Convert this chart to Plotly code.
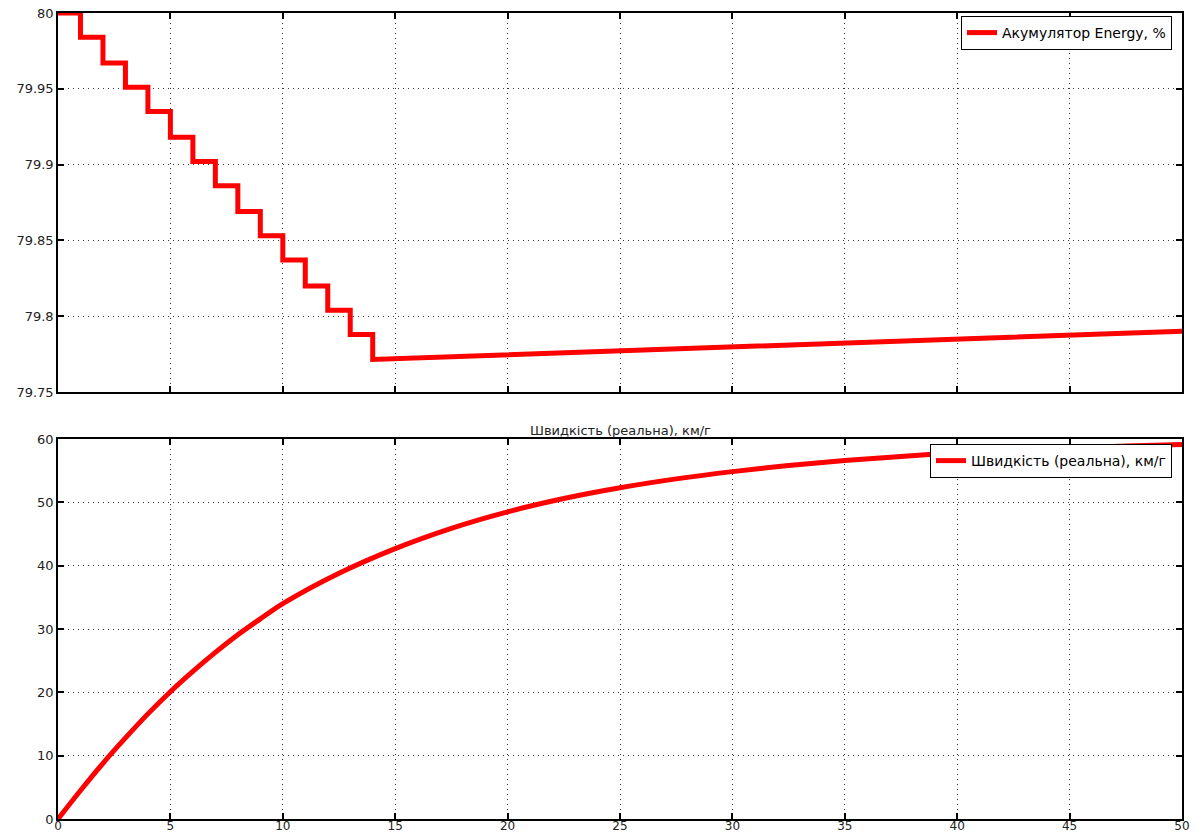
import plotly.graph_objects as go
from plotly.subplots import make_subplots

# ---- data: top panel (accumulator energy, %) ----
step_times = [0, 1, 2, 3, 4, 5, 6, 7, 8, 9, 10, 11, 12, 13, 14]
step_levels = [80.0, 79.984, 79.967, 79.951, 79.935, 79.918, 79.902, 79.886,
               79.869, 79.853, 79.837, 79.820, 79.804, 79.788, 79.7715]
ramp_end_time = 50
ramp_end_level = 79.790

# ---- data: bottom panel (speed, km/h) ----
speed_t = [0, 1, 2, 3, 4, 5, 6, 7, 8, 9, 10, 12.5, 15, 17.5, 20, 22.5, 25,
           27.5, 30, 32.5, 35, 37.5, 40, 42.5, 45, 47.5, 50]
speed_v = [0, 4.5, 8.8, 12.8, 16.6, 20.1, 23.3, 26.3, 29.1, 31.6, 34.0, 38.8,
           42.7, 45.9, 48.5, 50.6, 52.3, 53.7, 54.85, 55.8, 56.6, 57.25, 57.8,
           58.25, 58.6, 58.9, 59.15]

top_yticks = [79.75, 79.8, 79.85, 79.9, 79.95, 80]
top_yticklabels = ["79.75", "79.8", "79.85", "79.9", "79.95", "80"]
bot_yticks = [0, 10, 20, 30, 40, 50, 60]
xticks = [0, 5, 10, 15, 20, 25, 30, 35, 40, 45, 50]

label_energy = "Акумулятор Energy, %"
label_speed = "Швидкість (реальна), км/г"

# build step path from the levels (staircase) + final ramp
ex, ey = [], []
for i, (t, v) in enumerate(zip(step_times, step_levels)):
    ex.append(t); ey.append(v)
    if i + 1 < len(step_times):
        ex.append(step_times[i + 1]); ey.append(v)
ex.append(ramp_end_time); ey.append(ramp_end_level)

fig = make_subplots(rows=2, cols=1, vertical_spacing=0.05)

fig.add_trace(go.Scatter(x=ex, y=ey, mode="lines", name=label_energy,
                         line=dict(color="#ff0000", width=5), legend="legend"),
              row=1, col=1)
fig.add_trace(go.Scatter(x=speed_t, y=speed_v, mode="lines", name=label_speed,
                         line=dict(color="#ff0000", width=5, shape="spline", smoothing=0.8),
                         legend="legend2"),
              row=2, col=1)

W, H = 1199, 832
ml, mr, mt, mb = 58, 17, 13, 13
PLOT_L, PLOT_R, PLOT_T, PLOT_B = 58, 1182, 13, 819
def py(pix):
    return (PLOT_B - pix) / (PLOT_B - PLOT_T)
def px(pix):
    return (pix - PLOT_L) / (PLOT_R - PLOT_L)

FONT = "DejaVu Sans, Verdana, sans-serif"

axis_common = dict(showline=True, linecolor="black", linewidth=1.5, mirror="ticks",
                   ticks="inside", ticklen=6, tickwidth=1.5, tickcolor="black",
                   showgrid=True, gridcolor="rgba(0,0,0,0.8)", griddash="1px,4px",
                   gridwidth=1.2, zeroline=False, automargin=False,
                   ticklabeloverflow="allow",
                   tickfont=dict(family=FONT, size=13, color="#222"))

fig.update_xaxes(**axis_common, range=[0, 50], tickvals=xticks)
fig.update_yaxes(**axis_common)

fig.update_layout(
    width=W, height=H,
    margin=dict(l=ml, r=mr, t=mt, b=mb, autoexpand=False),
    paper_bgcolor="white", plot_bgcolor="white",
    xaxis=dict(domain=[0, 1], showticklabels=False),
    yaxis=dict(domain=[py(392), 1], range=[79.75, 80], tickvals=top_yticks,
               ticktext=top_yticklabels),
    xaxis2=dict(domain=[0, 1], ticklabelstandoff=-5,
                tickfont=dict(family=FONT, size=12, color="#222")),
    yaxis2=dict(domain=[0, py(439)], range=[0, 60], tickvals=bot_yticks),
    legend=dict(x=px(1172), xanchor="right",
                y=py(16), yanchor="top", bgcolor="white",
                bordercolor="black", borderwidth=1,
                font=dict(family=FONT, size=14, color="black"),
                itemwidth=30),
    legend2=dict(x=px(1172), xanchor="right",
                 y=py(444), yanchor="top", bgcolor="white",
                 bordercolor="black", borderwidth=1,
                 font=dict(family=FONT, size=14, color="black"),
                 itemwidth=30),
    showlegend=True,
    annotations=[dict(text=label_speed, x=0.5, xref="paper", y=py(430),
                      yref="paper", yanchor="middle", showarrow=False,
                      font=dict(family=FONT, size=13, color="#222"))],
)

# remove the default 8px page margin so the figure fills the window exactly
fig.write_html("out.html", config={"displayModeBar": False},
               post_script="document.body.style.margin='0';document.body.style.overflow='hidden';")
